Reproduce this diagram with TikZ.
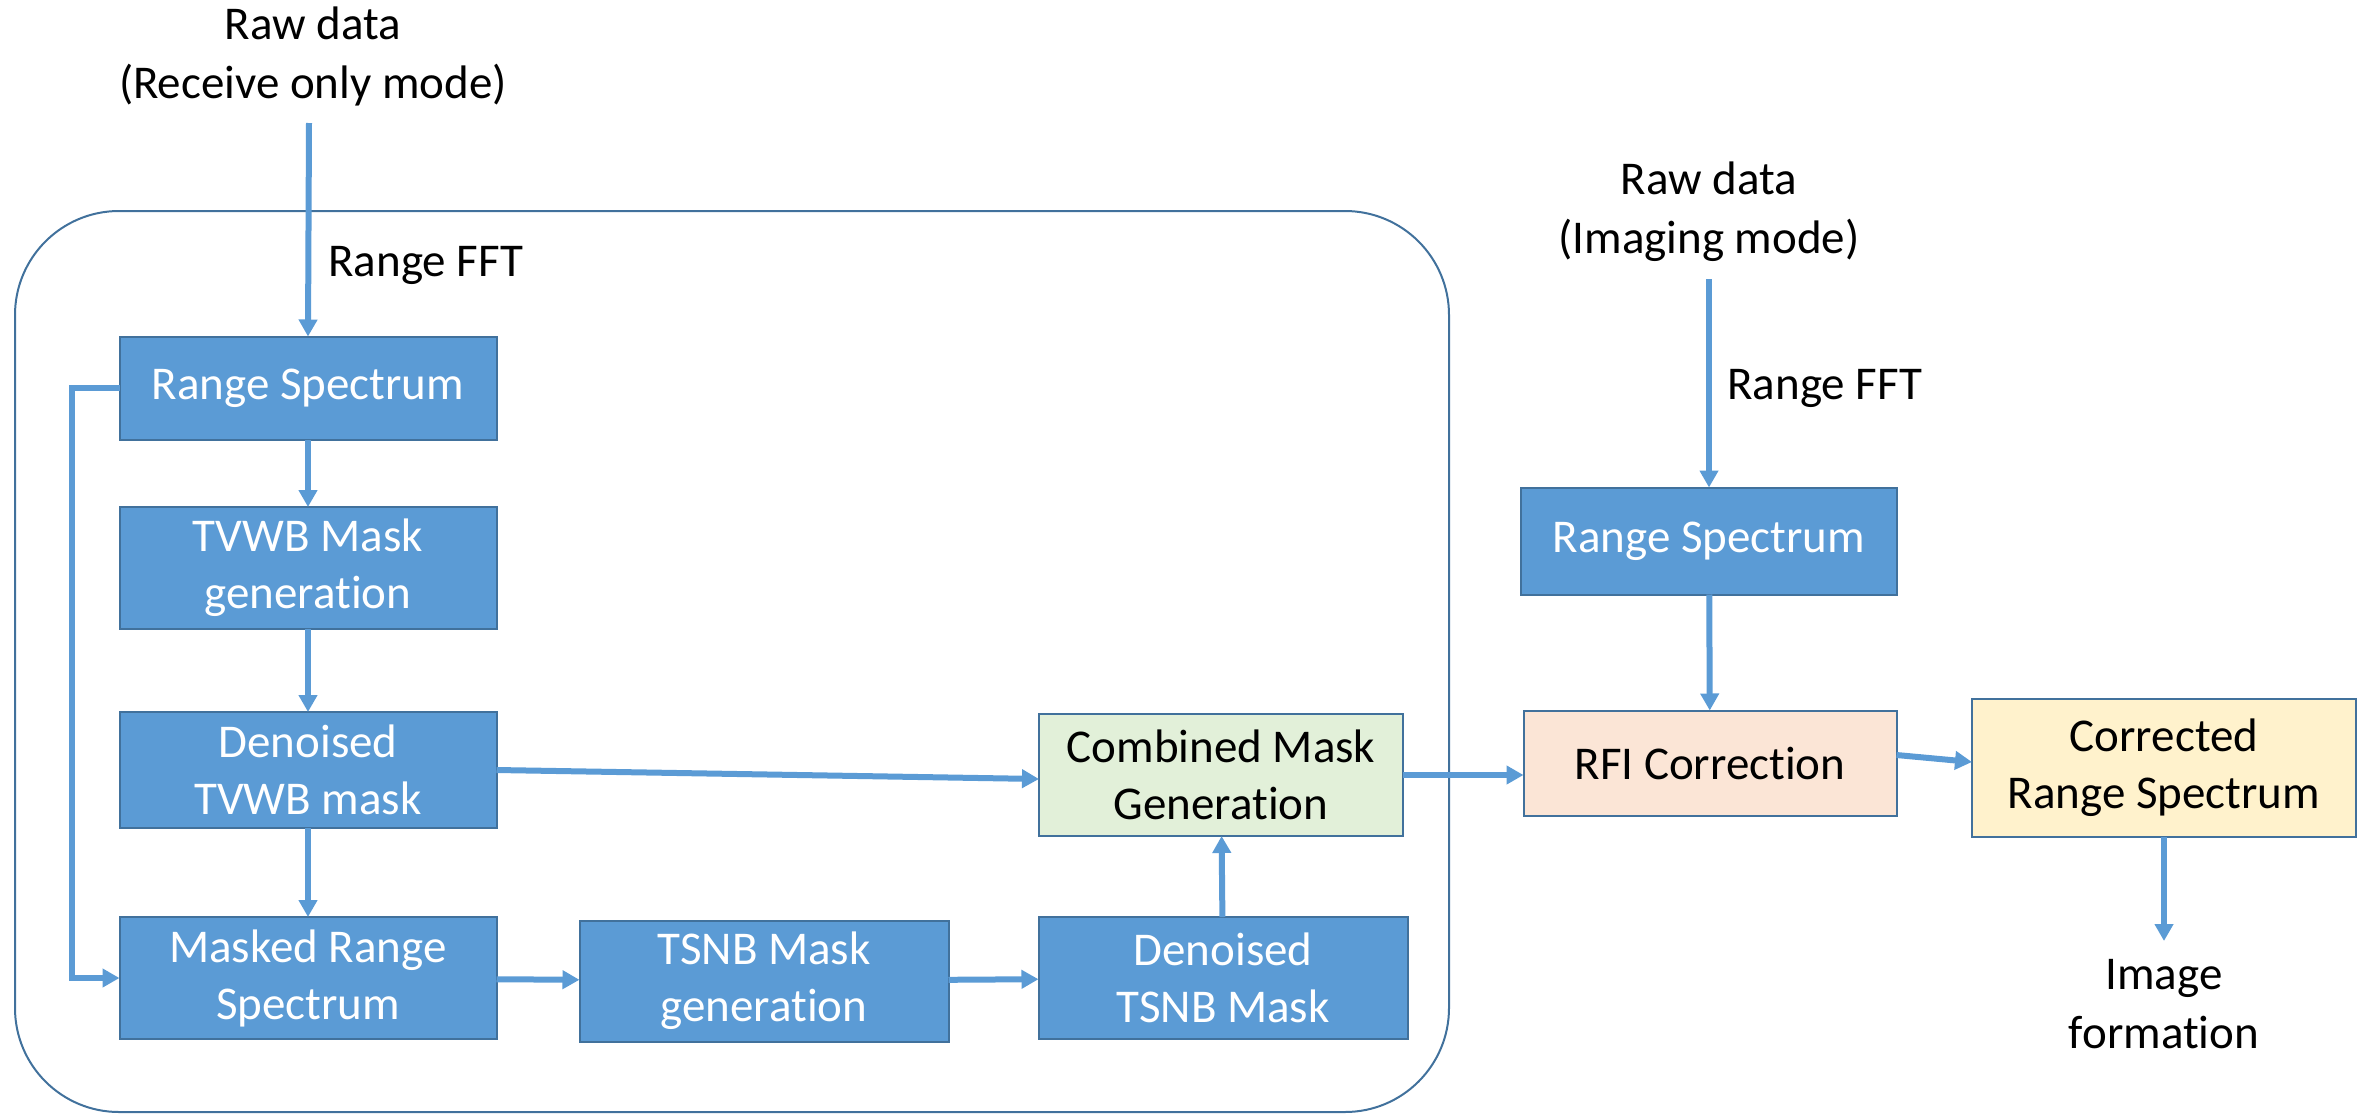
\documentclass[tikz,border=0pt]{standalone}
\usepackage{fontspec}
\setmainfont{Carlito}[Ligatures=NoCommon]
\usetikzlibrary{arrows.meta}
\definecolor{boxblue}{HTML}{5B9BD5}
\definecolor{edgeblue}{HTML}{41719C}
\definecolor{boxgreen}{HTML}{E2F0D9}
\definecolor{boxpeach}{HTML}{FBE5D6}
\definecolor{boxyellow}{HTML}{FFF2CC}
\tikzset{
  blockbase/.style={draw=edgeblue, line width=1pt, inner sep=0pt, outer sep=0pt,
    align=center, font=\fontsize{23.5}{28.5}\selectfont},
  bluebox/.style={blockbase, fill=boxblue, text=white},
  greenbox/.style={blockbase, fill=boxgreen, text=black},
  peachbox/.style={blockbase, fill=boxpeach, text=black},
  yellowbox/.style={blockbase, fill=boxyellow, text=black},
  plaintext/.style={align=center, inner sep=0pt, font=\fontsize{23.5}{29.5}\selectfont},
  flow/.style={draw=boxblue, line width=3pt, -{Triangle[length=8.5pt,width=9pt]}},
  container/.style={draw=edgeblue, line width=1pt, rounded corners=52pt}
}
\begin{document}
\begin{tikzpicture}[x=0.5pt, y=-0.5pt]
\useasboundingbox (0,0) rectangle (2361,1114);
% container
\draw[container] (15,211) rectangle (1449,1112);
% left column
\node[bluebox, minimum width=188.5pt, minimum height=51.5pt] (rs1) at (308,388) {Range Spectrum};
\node[bluebox, minimum width=188.5pt, minimum height=61pt] (tvwb) at (308,568) {TVWB Mask\\generation};
\node[bluebox, minimum width=188.5pt, minimum height=58pt] (dtvwb) at (308,770) {Denoised\\TVWB mask};
\node[bluebox, minimum width=188.5pt, minimum height=61pt] (masked) at (308,978) {Masked Range\\Spectrum};
\node[bluebox, minimum width=184.5pt, minimum height=60.5pt] (tsnb) at (764,981) {TSNB Mask\\generation};
\node[bluebox, minimum width=184.5pt, minimum height=61pt] (dtsnb) at (1223,978) {Denoised\\TSNB Mask};
\node[greenbox, minimum width=182pt, minimum height=61pt] (comb) at (1221,775) {Combined Mask\\Generation};
% right column
\node[bluebox, minimum width=188pt, minimum height=53.5pt] (rs2) at (1709,541) {Range Spectrum};
\node[peachbox, minimum width=186.5pt, minimum height=52.5pt] (rfi) at (1710,763) {RFI Correction};
\node[yellowbox, minimum width=192pt, minimum height=69pt] (corr) at (2164,768) {Corrected\\Range Spectrum};
% texts
\node[plaintext] (raw1) at (313,56) {Raw data\\(Receive only mode)};
\node[plaintext, anchor=west] (fft1) at (328,265) {Range FFT};
\node[plaintext] (raw2) at (1709,212) {Raw data\\(Imaging mode)};
\node[plaintext, anchor=west] (fft2) at (1727,388) {Range FFT};
\node[plaintext] (imgf) at (2164,1004) {Image\\formation};
% free ends
\coordinate (in1) at (309,123);
\coordinate (in2) at (1709,279);
\coordinate (out1) at (2164,941);
% connectors
\draw[flow] (in1) -- (rs1.north);
\draw[flow] (in2) -- (rs2.north);
\draw[flow] (rs1) -- (tvwb);
\draw[flow] (tvwb) -- (dtvwb);
\draw[flow] (dtvwb) -- (masked);
\draw[flow] (rs1.west) -- (72,388) -- (72,978) -- (masked.west);
\draw[flow] (dtvwb.east) -- ([yshift=-2pt]comb.west);
\draw[flow] (masked) -- (tsnb);
\draw[flow] (tsnb) -- (dtsnb);
\draw[flow] (dtsnb) -- (comb);
\draw[flow] (comb.east) -- (comb.east -| rfi.west);
\draw[flow] (rs2) -- (rfi);
\draw[flow] ([yshift=4pt]rfi.east) -- ([yshift=3pt]corr.west);
\draw[flow] (corr.south) -- (out1);
\end{tikzpicture}
\end{document}
